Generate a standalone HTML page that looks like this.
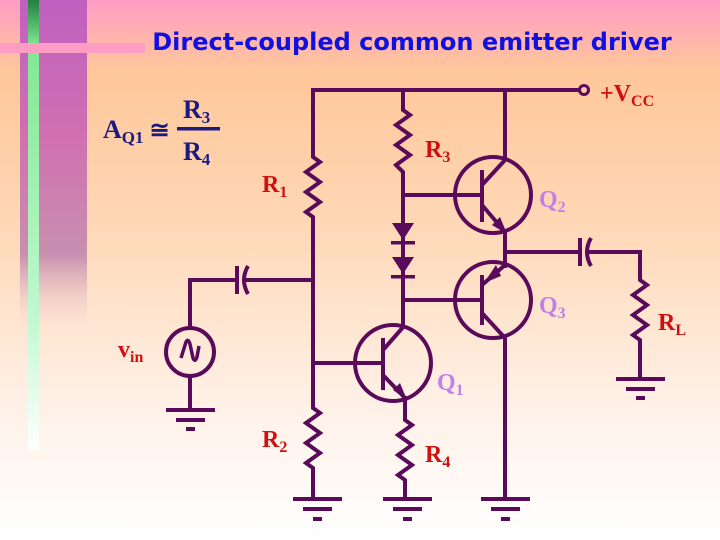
<!DOCTYPE html>
<html><head><style>
html,body{margin:0;padding:0;}
body{width:720px;height:540px;overflow:hidden;background:linear-gradient(to bottom,#ff9cc4 0px,#ffc79a 70px,#ffd7b5 220px,#fff0e6 400px,#ffffff 540px);}
svg{position:absolute;left:0;top:0;}
</style></head><body>
<svg width="720" height="540" viewBox="0 0 720 540">
<defs>
<linearGradient id="strip" x1="0" y1="0" x2="0" y2="1">
<stop offset="0" stop-color="#c060c0"/><stop offset="0.4" stop-color="#d070b0"/><stop offset="0.75" stop-color="#c890b0"/><stop offset="1" stop-color="#ffe8d8" stop-opacity="0"/>
</linearGradient>
<linearGradient id="gbar" x1="0" y1="0" x2="0" y2="1">
<stop offset="0" stop-color="#208040"/><stop offset="0.1" stop-color="#80e890"/><stop offset="0.7" stop-color="#c0f8d0"/><stop offset="1" stop-color="#ffffff"/>
</linearGradient>
</defs>
<rect x="20" y="0" width="67" height="340" fill="url(#strip)"/>
<rect x="28" y="0" width="11" height="450" fill="url(#gbar)"/>
<rect x="0" y="43" width="145" height="10" fill="#ff9cc4"/>
<text x="412" y="50" text-anchor="middle" font-family="'Comic Sans MS','DejaVu Sans',sans-serif" font-weight="bold" font-size="24" fill="#1010e0">Direct-coupled common emitter driver</text>
<g font-family="'Liberation Serif',serif" font-weight="bold" fill="#1a1a80">
<text x="103" y="138" font-size="26">A<tspan font-size="17" dy="5">Q1</tspan><tspan dy="-5" font-size="24"> ≅</tspan></text>
<text x="183" y="118" font-size="26">R<tspan font-size="17" dy="5">3</tspan></text>
<text x="183" y="160" font-size="26">R<tspan font-size="17" dy="5">4</tspan></text>
</g>
<rect x="177" y="127" width="43" height="3.5" fill="#1a1a80"/>
<g stroke="#5a0a5a" stroke-width="4" fill="none" stroke-linejoin="miter">
<polyline points="313,90 580,90"/>
<circle cx="584" cy="90" r="4.5" stroke-width="3" fill="#ffd0a8"/>
<polyline points="313,88 313,157 320,162 306,172 320,182 306,192 320,202 306,212 313,217 313,408 320,413 306,423 320,433 306,443 320,453 306,463 313,468 313,498"/>
<polyline points="403,90 403,110 410,115 396,125 410,135 396,145 410,155 396,165 403,172 403,325"/>
<circle cx="493" cy="195" r="38"/>
<line x1="403" y1="195" x2="482" y2="195"/>
<line x1="482" y1="170" x2="482" y2="222"/>
<line x1="482" y1="185" x2="505" y2="160"/>
<line x1="482" y1="205" x2="505" y2="232"/>
<line x1="505" y1="90" x2="505" y2="160"/>
<circle cx="493" cy="300" r="38"/>
<line x1="403" y1="300" x2="482" y2="300"/>
<line x1="482" y1="275" x2="482" y2="325"/>
<line x1="482" y1="285" x2="505" y2="265"/>
<line x1="482" y1="313" x2="505" y2="338"/>
<line x1="505" y1="230" x2="505" y2="268"/>
<line x1="505" y1="336" x2="505" y2="498"/>
<line x1="505" y1="252" x2="580" y2="252"/>
<line x1="580" y1="238" x2="580" y2="266"/>
<path d="M591,238 Q583,252 591,266"/>
<polyline points="586,252 640,252 640,280 647,285 633,295 647,305 633,315 647,325 633,335 640,340 640,378"/>
<circle cx="393" cy="363" r="38"/>
<line x1="313" y1="363" x2="383" y2="363"/>
<line x1="383" y1="338" x2="383" y2="390"/>
<line x1="383" y1="350" x2="405" y2="325"/>
<line x1="383" y1="375" x2="405" y2="398"/>
<polyline points="405,396 405,420 412,425 398,435 412,445 398,455 412,465 398,475 405,480 405,498"/>
<polyline points="190,328 190,280 237,280"/>
<line x1="237" y1="266" x2="237" y2="294"/>
<path d="M248,266 Q240,280 248,294"/>
<line x1="243" y1="280" x2="313" y2="280"/>
<circle cx="190" cy="352" r="24"/>
<path d="M181,358 L186,342 Q188,338 190,344 L193,358 Q195,363 197,357 L199,346" stroke-width="3.5"/>
<line x1="190" y1="376" x2="190" y2="410"/>
</g>
<g fill="#5a0a5a">
<polygon points="507,234 492,225 500,217"/>
<polygon points="407,400 393,390 400,383"/>
<polygon points="392,223 414,223 403,240"/>
<rect x="391" y="241" width="24" height="3.5"/>
<polygon points="392,257 414,257 403,274"/>
<rect x="391" y="275" width="24" height="3.5"/>
<polygon points="484,283 496,265 501,276"/>
</g>
<g fill="#5a0a5a">
<rect x="166" y="408" width="49" height="4"/><rect x="176" y="418" width="29" height="4"/><rect x="186" y="427" width="9" height="4"/>
<rect x="293" y="497" width="49" height="4"/><rect x="303" y="507" width="29" height="4"/><rect x="313" y="517" width="9" height="4"/>
<rect x="383" y="497" width="49" height="4"/><rect x="393" y="507" width="29" height="4"/><rect x="403" y="517" width="9" height="4"/>
<rect x="481" y="497" width="49" height="4"/><rect x="491" y="507" width="29" height="4"/><rect x="501" y="517" width="9" height="4"/>
<rect x="616" y="377" width="49" height="4"/><rect x="626" y="387" width="29" height="4"/><rect x="636" y="396" width="9" height="4"/>
</g>
<g font-family="'Liberation Serif',serif" font-weight="bold" font-size="24" fill="#d01010">
<text x="600" y="101">+V<tspan font-size="16" dy="5">CC</tspan></text>
<text x="425" y="157">R<tspan font-size="16" dy="5">3</tspan></text>
<text x="262" y="192">R<tspan font-size="16" dy="5">1</tspan></text>
<text x="262" y="447">R<tspan font-size="16" dy="5">2</tspan></text>
<text x="425" y="462">R<tspan font-size="16" dy="5">4</tspan></text>
<text x="658" y="330">R<tspan font-size="16" dy="5">L</tspan></text>
<text x="118" y="357">v<tspan font-size="16" dy="5">in</tspan></text>
</g>
<g font-family="'Liberation Serif',serif" font-weight="bold" font-size="24" fill="#c080e8">
<text x="539" y="207">Q<tspan font-size="16" dy="5">2</tspan></text>
<text x="539" y="313">Q<tspan font-size="16" dy="5">3</tspan></text>
<text x="437" y="390">Q<tspan font-size="16" dy="5">1</tspan></text>
</g>
</svg>
</body></html>
